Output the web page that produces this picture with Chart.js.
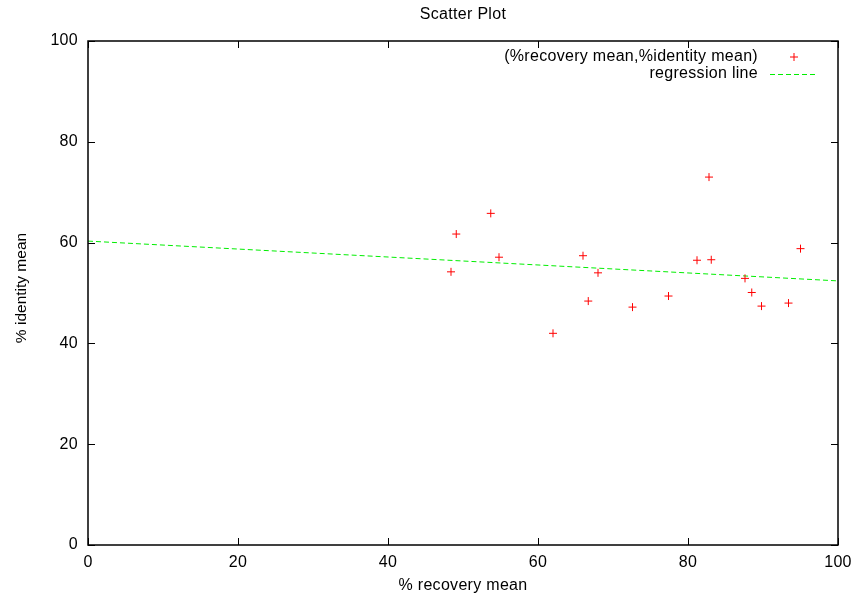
<!DOCTYPE html>
<html>
<head>
<meta charset="utf-8">
<script src="https://cdn.jsdelivr.net/npm/chart.js@4/dist/chart.umd.min.js"></script>
<style>
  html, body { margin: 0; padding: 0; background: #fff; }
  #wrap { width: 855px; height: 595px; }
</style>
</head>
<body>
<div id="wrap"><canvas id="myChart"></canvas></div>
<script>
// data
const recoveryMean = [48.4, 49.1, 53.7, 54.8, 62.0, 66.0, 66.7, 68.0, 72.6, 77.4, 81.2, 82.8, 83.1, 87.6, 88.5, 89.8, 93.4, 95.0];
const identityMean = [54.2, 61.7, 65.8, 57.1, 42.0, 57.4, 48.4, 54.0, 47.2, 49.4, 56.5, 73.0, 56.6, 52.9, 50.1, 47.4, 48.0, 58.8];
const regressionX = [0, 100];
const regressionY = [60.3, 52.4];
const xTicks = [0, 20, 40, 60, 80, 100];
const yTicks = [0, 20, 40, 60, 80, 100];

const FONT = "'Liberation Sans', Arial, Helvetica, sans-serif";
const FONT_SIZE = 16;
const LETTER_SPACING = '0.3px';

const scatterPoints = recoveryMean.map((x, i) => ({ x: x, y: identityMean[i] }));
const regressionPoints = regressionX.map((x, i) => ({ x: x, y: regressionY[i] }));

// gnuplot text is a touch wider than plain Arial
const spacing = {
    id: 'spacing',
    beforeDraw(chart) { chart.ctx.letterSpacing = LETTER_SPACING; }
};

// frame, inward ticks (mirrored), titles and the gnuplot style legend
const gnuplotLook = {
    id: 'gnuplotLook',
    afterDraw(chart) {
        const ctx = chart.ctx;
        const a = chart.chartArea;
        const xs = chart.scales.x, ys = chart.scales.y;
        ctx.save();
        ctx.strokeStyle = '#000';
        ctx.lineWidth = 1.5;
        ctx.strokeRect(a.left, a.top, a.right - a.left, a.bottom - a.top);

        ctx.lineWidth = 1;
        const tl = 7;
        ctx.beginPath();
        xs.ticks.forEach(t => {
            const px = Math.round(xs.getPixelForValue(t.value)) + 0.5;
            ctx.moveTo(px, a.bottom); ctx.lineTo(px, a.bottom - tl);
            ctx.moveTo(px, a.top); ctx.lineTo(px, a.top + tl);
        });
        ys.ticks.forEach(t => {
            const py = Math.round(ys.getPixelForValue(t.value)) + 0.5;
            ctx.moveTo(a.left, py); ctx.lineTo(a.left + tl, py);
            ctx.moveTo(a.right, py); ctx.lineTo(a.right - tl, py);
        });
        ctx.stroke();

        // title
        ctx.fillStyle = '#000';
        ctx.font = FONT_SIZE + 'px ' + FONT;
        ctx.textAlign = 'center';
        ctx.textBaseline = 'middle';
        ctx.letterSpacing = LETTER_SPACING;
        ctx.fillText('Scatter Plot', (a.left + a.right) / 2, 15);

        // legend
        const textRight = a.right - 80;
        const sampleLeft = a.right - 68, sampleRight = a.right - 20;
        chart.data.datasets.forEach((ds, i) => {
            const y = 57 + i * 17;
            ctx.fillStyle = '#000';
            ctx.textAlign = 'right';
            ctx.fillText(ds.label, textRight, y);
            ctx.strokeStyle = ds.borderColor;
            ctx.lineWidth = 1;
            if (ds.showLine) {
                ctx.setLineDash(ds.borderDash || []);
                ctx.beginPath();
                ctx.moveTo(sampleLeft, y + 0.5); ctx.lineTo(sampleRight, y + 0.5);
                ctx.stroke();
                ctx.setLineDash([]);
            } else {
                const cx = (sampleLeft + sampleRight) / 2, r = ds.pointRadius;
                ctx.beginPath();
                ctx.moveTo(cx - r, y); ctx.lineTo(cx + r, y);
                ctx.moveTo(cx, y - r); ctx.lineTo(cx, y + r);
                ctx.stroke();
            }
        });

        // y axis title, rotated
        ctx.letterSpacing = '0px';
        ctx.font = '15.5px ' + FONT;
        ctx.translate(22, (a.top + a.bottom) / 2 - 5);
        ctx.rotate(-Math.PI / 2);
        ctx.textAlign = 'center';
        ctx.fillStyle = '#000';
        ctx.fillText('% identity mean', 0, 0);
        ctx.restore();
    }
};

new Chart(document.getElementById('myChart').getContext('2d'), {
    type: 'scatter',
    data: {
        datasets: [
            {
                label: '(%recovery mean,%identity mean)',
                data: scatterPoints,
                pointStyle: 'cross',
                pointRadius: 4,
                pointHoverRadius: 4,
                borderColor: '#ff0000',
                backgroundColor: '#ff0000',
                borderWidth: 1,
                showLine: false
            },
            {
                label: 'regression line',
                data: regressionPoints,
                showLine: true,
                pointRadius: 0,
                borderColor: '#00ee00',
                borderWidth: 1,
                borderDash: [5, 3],
                fill: false
            }
        ]
    },
    options: {
        responsive: true,
        maintainAspectRatio: false,
        animation: false,
        events: [],
        layout: { padding: { top: 41, right: 17, left: 0, bottom: 0 } },
        plugins: {
            legend: { display: false },
            title: { display: false },
            tooltip: { enabled: false }
        },
        scales: {
            x: {
                type: 'linear',
                min: 0,
                max: 100,
                afterBuildTicks: s => { s.ticks = xTicks.map(v => ({ value: v })); },
                afterFit: s => { s.height = 50; s.paddingLeft = 0; s.paddingRight = 0; },
                grid: { display: false, drawTicks: false },
                border: { display: false },
                ticks: { color: '#000', padding: 8, maxRotation: 0, font: { family: FONT, size: FONT_SIZE } },
                title: {
                    display: true,
                    text: '% recovery mean',
                    color: '#000',
                    padding: { top: 2, bottom: 0 },
                    font: { family: FONT, size: FONT_SIZE }
                }
            },
            y: {
                type: 'linear',
                min: 0,
                max: 100,
                afterBuildTicks: s => { s.ticks = yTicks.map(v => ({ value: v })); },
                afterFit: s => { s.width = 88; s.paddingTop = 0; s.paddingBottom = 0; },
                grid: { display: false, drawTicks: false },
                border: { display: false },
                ticks: { color: '#000', padding: 10, font: { family: FONT, size: FONT_SIZE } },
                title: { display: false }
            }
        }
    },
    plugins: [spacing, gnuplotLook]
});
</script>
</body>
</html>
